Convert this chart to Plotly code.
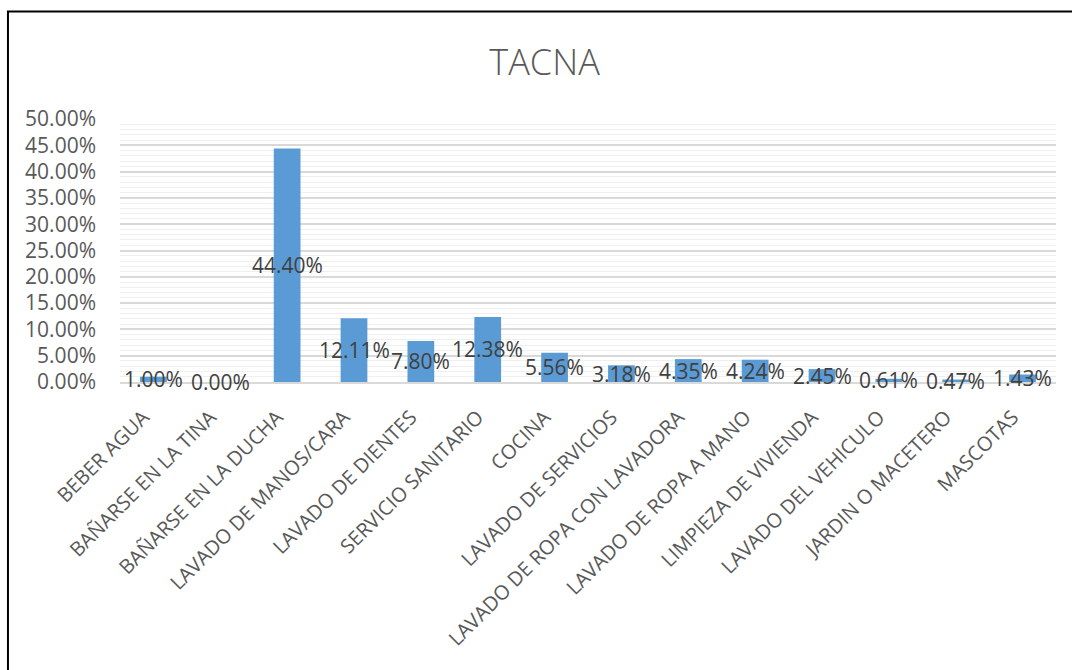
import plotly.graph_objects as go

categories = ["BEBER AGUA", "BAÑARSE EN LA TINA", "BAÑARSE EN LA DUCHA",
              "LAVADO DE MANOS/CARA", "LAVADO DE DIENTES", "SERVICIO SANITARIO",
              "COCINA", "LAVADO DE SERVICIOS", "LAVADO DE ROPA CON LAVADORA",
              "LAVADO DE ROPA A MANO", "LIMPIEZA DE VIVIENDA", "LAVADO DEL VEHICULO",
              "JARDIN O MACETERO", "MASCOTAS"]
values = [0.0100, 0.0000, 0.4440, 0.1211, 0.0780, 0.1238, 0.0556, 0.0318,
          0.0435, 0.0424, 0.0245, 0.0061, 0.0047, 0.0143]

labels = [f"{v*100:.2f}%" for v in values]

fig = go.Figure()
fig.add_trace(go.Bar(x=categories, y=values, marker_color="#5B9BD5",
                     marker_line_width=0, hoverinfo="skip"))

for c, v, t in zip(categories, values, labels):
    fig.add_annotation(x=c, y=v / 2, xref="x", yref="y", text=t, showarrow=False,
                       xanchor="center", yanchor="middle",
                       font=dict(family="Open Sans", size=21, color="#404040"))

fig.update_layout(
    width=1072, height=670,
    margin=dict(l=120, r=16, t=119, b=288),
    paper_bgcolor="white", plot_bgcolor="white",
    showlegend=False,
    bargap=0.6,
    title=dict(text="TACNA", x=0.508, xanchor="center", y=0.907, yanchor="middle",
               font=dict(family="Open Sans", size=36, color="#595959", weight=300)),
    font=dict(family="Open Sans", color="#595959"),
)
fig.update_yaxes(range=[0, 0.5], dtick=0.05, tickformat=".2%", automargin=False,
                 showgrid=True, gridcolor="#D9D9D9", gridwidth=1.5,
                 minor=dict(dtick=0.01, showgrid=True, gridcolor="#EFEFEF", gridwidth=1),
                 zeroline=False, showline=False, ticks="", ticklabelstandoff=23,
                 tickfont=dict(family="Open Sans", size=21, color="#595959"))
fig.update_xaxes(tickangle=-45, showline=True, linecolor="#D9D9D9", linewidth=1.5,
                 ticks="", automargin=False, ticklabelstandoff=14, ticklabelshift=-10,
                 tickfont=dict(family="Open Sans", size=20, color="#595959"))

fig.add_shape(type="rect", xref="paper", yref="paper",
              x0=-0.1197, x1=1.2, y0=-2.0, y1=1.409,
              line=dict(color="black", width=2), fillcolor="rgba(0,0,0,0)", layer="above")

fig.write_html("out.html")
